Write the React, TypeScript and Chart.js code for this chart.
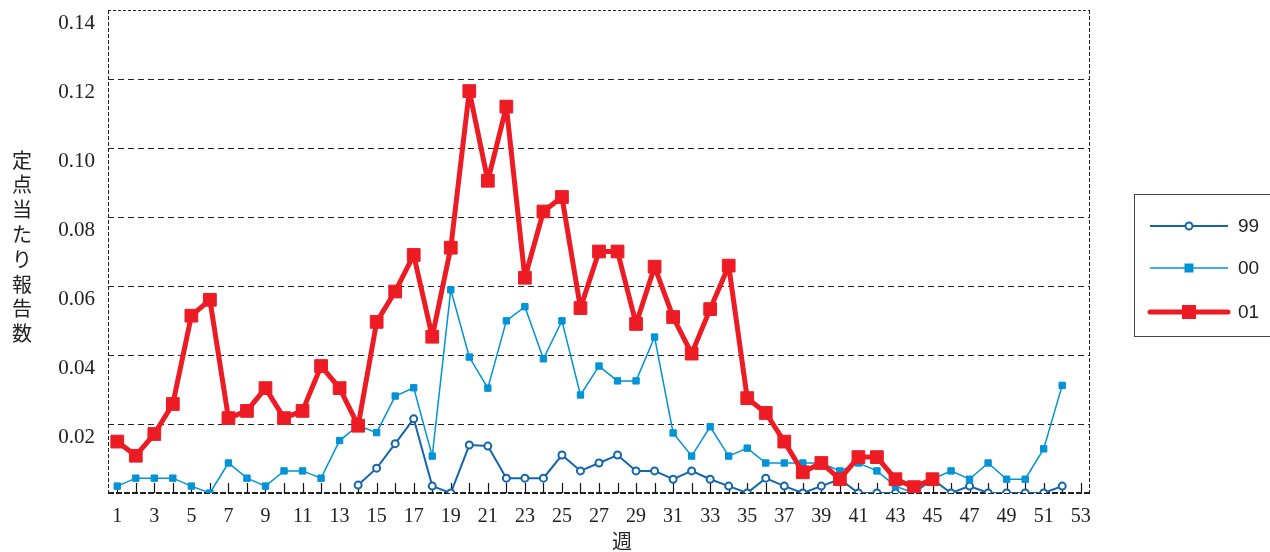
import React, { useEffect, useRef } from 'react';
import { Chart, registerables } from 'chart.js';

Chart.register(...registerables);

// ---- data ----
const weeks = [1, 2, 3, 4, 5, 6, 7, 8, 9, 10, 11, 12, 13, 14, 15, 16, 17, 18, 19, 20, 21, 22, 23, 24, 25, 26,
  27, 28, 29, 30, 31, 32, 33, 34, 35, 36, 37, 38, 39, 40, 41, 42, 43, 44, 45, 46, 47, 48, 49, 50, 51, 52];

const series99: (number | null)[] = [
  null, null, null, null, null, null, null, null, null, null, null, null, null,
  0.0023, 0.0072, 0.0143, 0.0215, 0.002, 0, 0.0139, 0.0136, 0.0043, 0.0043, 0.0043, 0.011, 0.0064,
  0.0087, 0.011, 0.0064, 0.0064, 0.004, 0.0064, 0.004, 0.002, 0, 0.0043, 0.002, 0, 0.002, 0.004,
  0, 0, 0, 0, 0.004, 0, 0.002, 0, 0, 0, 0, 0.002,
];

const series00: (number | null)[] = [
  0.002, 0.0043, 0.0043, 0.0043, 0.002, 0, 0.0087, 0.0043, 0.002, 0.0064, 0.0064, 0.0043, 0.0152,
  0.0195, 0.0175, 0.0281, 0.0305, 0.0107, 0.0589, 0.0394, 0.0304, 0.0499, 0.054, 0.0389, 0.0499, 0.0284,
  0.0368, 0.0325, 0.0325, 0.0452, 0.0174, 0.0107, 0.0192, 0.0107, 0.013, 0.0087, 0.0087, 0.0087, 0.0087, 0.0064,
  0.0087, 0.0064, 0.002, 0, 0.004, 0.0064, 0.004, 0.0087, 0.004, 0.004, 0.0128, 0.0312,
];

const series01: (number | null)[] = [
  0.0149, 0.0108, 0.0171, 0.0258, 0.0514, 0.056, 0.0217, 0.0238, 0.0304, 0.0217, 0.0238, 0.0368, 0.0304,
  0.0195, 0.0496, 0.0584, 0.069, 0.0453, 0.0711, 0.1165, 0.0905, 0.112, 0.0624, 0.0816, 0.0858, 0.0536,
  0.070, 0.070, 0.049, 0.0656, 0.051, 0.0404, 0.0533, 0.0659, 0.0275, 0.0232, 0.0149, 0.006, 0.0087, 0.004,
  0.0104, 0.0104, 0.004, 0.0017, 0.004, null, null, null, null, null, null, null,
];

const seriesNames = ['99', '00', '01'];
const xTickLabels = [1, 3, 5, 7, 9, 11, 13, 15, 17, 19, 21, 23, 25, 27, 29, 31, 33, 35, 37, 39, 41, 43, 45, 47, 49, 51, 53];
const xTickMarks = [1, 2, 3, 4, 5, 6, 7, 8, 9, 10, 11, 12, 13, 14, 15, 16, 17, 18, 19, 20, 21, 22, 23, 24, 25, 26, 27,
  28, 29, 30, 31, 32, 33, 34, 35, 36, 37, 38, 39, 40, 41, 42, 43, 44, 45, 46, 47, 48, 49, 50, 51, 52, 53];
const yTickValues = [0.02, 0.04, 0.06, 0.08, 0.1, 0.12, 0.14];
const yGridValues = [0.02, 0.04, 0.06, 0.08, 0.1, 0.12];
const yTitle = '定点当たり報告数';
const xTitle = '週';

const C99 = '#1565ad';
const C00 = '#0093d7';
const C01 = '#ed1c24';

const toPoints = (arr: (number | null)[]) => weeks.map((w, i) => ({ x: w, y: arr[i] }));

const decor = {
  id: 'decor',
  beforeDatasetsDraw(chart: any) {
    const { ctx, chartArea: a, scales } = chart;
    const x = scales.x;
    const y = scales.y;
    ctx.save();
    const line = (x1: number, y1: number, x2: number, y2: number) => {
      ctx.beginPath();
      ctx.moveTo(x1, y1);
      ctx.lineTo(x2, y2);
      ctx.stroke();
    };
    ctx.strokeStyle = '#222';
    ctx.lineWidth = 1;
    ctx.setLineDash([6, 4]);
    for (const v of yGridValues) {
      const py = Math.round(y.getPixelForValue(v)) + 0.5;
      line(a.left, py, a.right, py);
    }
    // top border
    ctx.setLineDash([3, 2]);
    const topY = Math.round(y.getPixelForValue(0.14)) + 0.5;
    line(a.left, topY, a.right, topY);
    // left & right
    ctx.setLineDash([4, 2]);
    line(a.left + 0.5, a.top, a.left + 0.5, a.bottom);
    line(a.right - 0.5, a.top, a.right - 0.5, a.bottom);
    // tick marks
    ctx.setLineDash([]);
    ctx.strokeStyle = '#111';
    ctx.lineWidth = 1.2;
    for (const w of xTickMarks) {
      const px = Math.round(x.getPixelForValue(w)) + 0.5;
      line(px, a.bottom, px, a.bottom - 10);
    }
    // bottom axis
    ctx.setLineDash([6, 2]);
    ctx.lineWidth = 2;
    ctx.strokeStyle = '#222';
    line(a.left, a.bottom, a.right, a.bottom);
    ctx.restore();
  },
  afterDraw(chart: any) {
    const { ctx, chartArea: a } = chart;
    ctx.save();
    // y title, stacked characters
    ctx.fillStyle = '#222';
    ctx.font = '20px "Noto Sans CJK JP"';
    ctx.textAlign = 'center';
    ctx.textBaseline = 'middle';
    const chars = Array.from(yTitle);
    const step = 24.8;
    const startY = 160;
    chars.forEach((c, i) => ctx.fillText(c, 22, startY + i * step));
    // x title
    ctx.fillText(xTitle, (a.left + a.right) / 2 + 23, 541);

    // legend
    ctx.strokeStyle = '#444';
    ctx.lineWidth = 1;
    ctx.setLineDash([]);
    ctx.strokeRect(1134.5, 194.5, 200, 142);
    const rows = [226, 268, 312];
    const colors = [C99, C00, C01];
    const widths = [2, 1.5, 5];
    for (let i = 0; i < 3; i++) {
      const ry = rows[i];
      ctx.strokeStyle = colors[i];
      ctx.lineWidth = widths[i];
      ctx.lineCap = i === 2 ? 'round' : 'butt';
      ctx.beginPath();
      ctx.moveTo(1150, ry);
      ctx.lineTo(1228, ry);
      ctx.stroke();
      if (i === 0) {
        ctx.fillStyle = '#fff';
        ctx.lineWidth = 2;
        ctx.beginPath();
        ctx.arc(1189, ry, 3.5, 0, Math.PI * 2);
        ctx.fill();
        ctx.stroke();
      } else if (i === 1) {
        ctx.fillStyle = colors[i];
        ctx.fillRect(1189 - 4.5, ry - 4.5, 9, 9);
      } else {
        ctx.fillStyle = colors[i];
        ctx.fillRect(1189 - 7, ry - 7, 14, 14);
      }
      ctx.fillStyle = '#222';
      ctx.font = '19px "Liberation Sans"';
      ctx.textAlign = 'left';
      ctx.textBaseline = 'middle';
      ctx.fillText(seriesNames[i], 1238, ry + 1);
    }
    ctx.restore();
  },
};

export default function App() {
  const ref = useRef<HTMLCanvasElement | null>(null);
  useEffect(() => {
    if (!ref.current) return;
    const chart = new Chart(ref.current, {
      type: 'line',
      data: {
        datasets: [
          {
            label: seriesNames[0],
            data: toPoints(series99),
            borderColor: C99,
            backgroundColor: '#fff',
            borderWidth: 2,
            pointStyle: 'circle',
            pointRadius: 3.5,
            pointBorderWidth: 2,
            pointBorderColor: C99,
            pointBackgroundColor: '#fff',
            tension: 0,
            spanGaps: false,
            order: 2,
          },
          {
            label: seriesNames[1],
            data: toPoints(series00),
            borderColor: C00,
            backgroundColor: C00,
            borderWidth: 1.5,
            pointStyle: 'rect',
            pointRadius: 4.5,
            pointBorderWidth: 1,
            pointBorderColor: C00,
            pointBackgroundColor: C00,
            tension: 0,
            order: 1,
          },
          {
            label: seriesNames[2],
            data: toPoints(series01),
            borderColor: C01,
            backgroundColor: C01,
            borderWidth: 5,
            pointStyle: 'rect',
            pointRadius: 9,
            pointBorderWidth: 1,
            pointBorderColor: C01,
            pointBackgroundColor: C01,
            tension: 0,
            borderJoinStyle: 'round',
            order: 0,
          },
        ] as any,
      },
      options: {
        animation: false,
        responsive: false,
        layout: { padding: { left: 0, top: 10, right: 180, bottom: 0 } },
        plugins: { legend: { display: false }, tooltip: { enabled: false } },
        scales: {
          x: {
            type: 'linear',
            min: 0.5,
            max: 53.5,
            grid: { display: false, drawTicks: false },
            border: { display: false },
            afterBuildTicks: (s: any) => {
              s.ticks = xTickLabels.map((v) => ({ value: v }));
            },
            afterFit: (s: any) => {
              s.height = 59;
              s.paddingLeft = 0;
              s.paddingRight = 0;
            },
            ticks: {
              autoSkip: false,
              maxRotation: 0,
              padding: 12,
              color: '#222',
              font: { family: '"Liberation Serif"', size: 20 },
              callback: (v: any) => String(v),
            },
          },
          y: {
            type: 'linear',
            min: 0,
            max: 0.14,
            grid: { display: false, drawTicks: false },
            border: { display: false },
            afterBuildTicks: (s: any) => {
              s.ticks = yTickValues.map((v) => ({ value: v }));
            },
            afterFit: (s: any) => {
              s.width = 108;
              s.paddingTop = 0;
              s.paddingBottom = 0;
            },
            ticks: {
              padding: 13,
              labelOffset: 13,
              color: '#222',
              font: { family: '"Liberation Serif"', size: 21 },
              callback: (v: any) => Number(v).toFixed(2),
            },
          },
        },
      } as any,
      plugins: [decor],
    });
    return () => chart.destroy();
  }, []);
  return (
    <div style={{ position: 'fixed', left: 0, top: 0, width: 1270, height: 552, background: '#fff' }}>
      <canvas ref={ref} width={1270} height={552} style={{ display: 'block' }} />
    </div>
  );
}
